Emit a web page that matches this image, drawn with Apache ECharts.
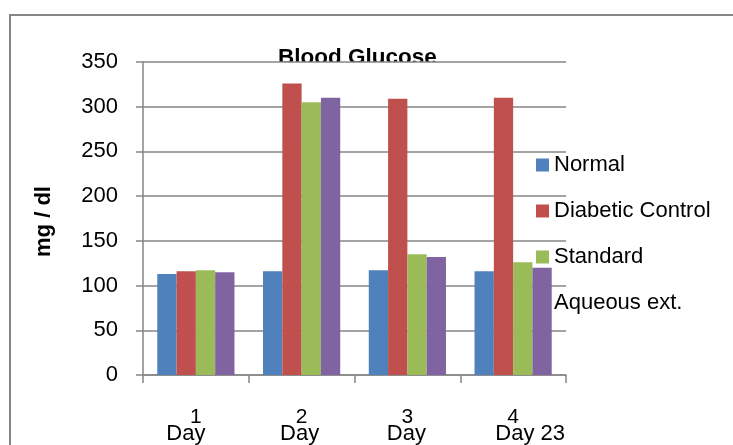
<!DOCTYPE html>
<html>
<head>
<meta charset="utf-8">
<script src="https://cdn.jsdelivr.net/npm/echarts@6/dist/echarts.min.js"></script>
<style>
  html, body { margin: 0; padding: 0; background: #fff; }
  #chart { width: 733px; height: 445px; }
</style>
</head>
<body>
<div id="chart"></div>
<script>
// Blood glucose (mg/dl) per group across the four measurement days
const dayNumbers = ['1', '2', '3', '4'];
const dayWords = ['Day', 'Day', 'Day', 'Day 23'];
const seriesNames = ['Normal', 'Diabetic Control', 'Standard', 'Aqueous ext.'];
const normal = [113, 116, 117, 116];
const diabeticControl = [116, 326, 309, 310];
const standard = [117, 305, 135, 126];
const aqueousExt = [115, 310, 132, 120];
const yTicks = { min: 0, max: 350, step: 50 };

const palette = ['#4F81BD', '#C0504D', '#9BBB59', '#8064A2'];
const FONT = 'Liberation Sans';

// horizontal nudge of the second line of each category label
const wordShift = [-10, -2, -1, 17];
const rich = {
  n: { fontFamily: FONT, fontSize: 21, lineHeight: 16, color: '#000', align: 'center' }
};
wordShift.forEach((s, i) => {
  rich['d' + i] = {
    fontFamily: FONT, fontSize: 22, lineHeight: 17, color: '#000', align: 'center',
    padding: s < 0 ? [0, -2 * s, 0, 0] : [0, 0, 0, 2 * s]
  };
});

const values = [normal, diabeticControl, standard, aqueousExt];
const series = seriesNames.map((name, i) => ({
  name: name,
  type: 'bar',
  data: values[i],
  barGap: '0%',
  barCategoryGap: '27%',
  itemStyle: { color: palette[i] },
  z: 2
}));

const chart = echarts.init(document.getElementById('chart'), null, { renderer: 'canvas' });
chart.setOption({
  animation: false,
  backgroundColor: '#fff',
  color: palette,
  title: {
    text: 'Blood Glucose',
    left: 278,
    top: 46,
    padding: 0,
    z: -1,
    textStyle: { fontFamily: FONT, fontSize: 22.5, fontWeight: 'bold', color: '#000' }
  },
  graphic: [{
    type: 'rect',
    z: -10,
    shape: { x: 10, y: 15, width: 760, height: 460 },
    style: { fill: 'none', stroke: '#868686', lineWidth: 2 }
  }],
  grid: {
    left: 143, top: 62, width: 423, height: 313,
    show: true, backgroundColor: '#fff', borderWidth: 0,
    containLabel: false
  },
  legend: {
    orient: 'vertical',
    left: 536,
    top: 154,
    itemWidth: 13,
    itemHeight: 13,
    itemGap: 24,
    icon: 'rect',
    padding: 0,
    textStyle: { fontFamily: FONT, fontSize: 22, lineHeight: 21, color: '#000' },
    data: seriesNames
  },
  xAxis: {
    type: 'category',
    data: dayNumbers,
    boundaryGap: true,
    axisLine: { show: true, lineStyle: { color: '#868686', width: 1.5 } },
    axisTick: { show: true, length: 8, interval: 0, lineStyle: { color: '#868686', width: 1.5 } },
    axisLabel: {
      interval: 0,
      margin: 34,
      formatter: (value, idx) => '{n|' + value + '}\n{d' + idx + '|' + dayWords[idx] + '}',
      rich: rich
    },
    splitLine: { show: false }
  },
  yAxis: {
    type: 'value',
    min: yTicks.min,
    max: yTicks.max,
    interval: yTicks.step,
    name: 'mg / dl',
    nameLocation: 'middle',
    nameGap: 88,
    nameTextStyle: { fontFamily: FONT, fontSize: 22, fontWeight: 'bold', color: '#000', padding: [0, 6, 0, 0] },
    axisLine: { show: true, lineStyle: { color: '#868686', width: 1.5 } },
    axisTick: { show: true, length: 7, lineStyle: { color: '#868686', width: 1.5 } },
    axisLabel: { margin: 25, fontFamily: FONT, fontSize: 22, color: '#000' },
    splitLine: { show: true, lineStyle: { color: '#868686', width: 1.5 } }
  },
  series: series
});
</script>
</body>
</html>
